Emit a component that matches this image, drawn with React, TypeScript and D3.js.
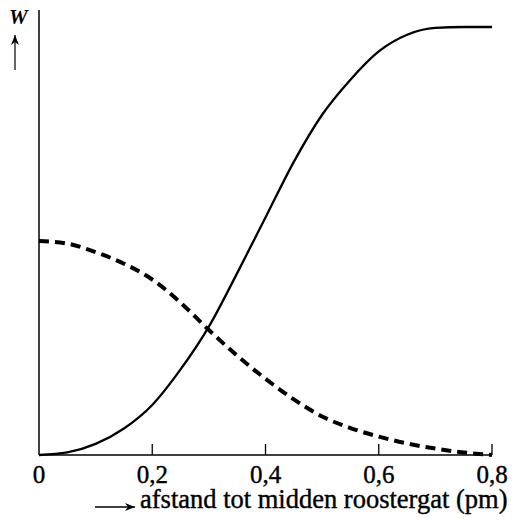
import { useEffect, useRef } from 'react';
import * as d3 from 'd3';

// afstand (pm) and W values
const distance = [0, 0.05, 0.1, 0.15, 0.2, 0.25, 0.3, 0.35, 0.4, 0.45, 0.5, 0.55, 0.6, 0.65, 0.7, 0.75, 0.8];
const solidW = [0, 0.006, 0.026, 0.062, 0.117, 0.2, 0.3, 0.425, 0.555, 0.685, 0.795, 0.877, 0.943, 0.982, 0.998, 1.0, 1.0];
const dashW = [0.5, 0.494, 0.474, 0.447, 0.41, 0.356, 0.292, 0.232, 0.178, 0.13, 0.09, 0.063, 0.043, 0.027, 0.015, 0.006, 0.0];

const tickValues = [0, 0.2, 0.4, 0.6, 0.8];
const tickLabels = ['0', '0,2', '0,4', '0,6', '0,8'];

const App = () => {
  const svgRef = useRef<SVGSVGElement>(null);

  useEffect(() => {
    if (!svgRef.current) return;
    d3.select(svgRef.current).selectAll('*').remove();

    const width = 513;
    const height = 520;
    const svg = d3.select(svgRef.current).attr('width', width).attr('height', height);
    const font = '"Liberation Serif", "Times New Roman", Times, serif';

    const x = d3.scaleLinear().domain([0, 0.8]).range([39, 492]);
    const y = d3.scaleLinear().domain([0, 1]).range([455, 27]);

    svg.append('defs')
      .append('marker')
      .attr('id', 'arrowhead')
      .attr('viewBox', '0 0 10 10')
      .attr('refX', 10)
      .attr('refY', 5)
      .attr('markerWidth', 10)
      .attr('markerHeight', 10)
      .attr('markerUnits', 'userSpaceOnUse')
      .attr('orient', 'auto')
      .append('path')
      .attr('d', 'M0,1 L10,5 L0,9 L3,5 Z')
      .attr('fill', '#000');

    // axes
    svg.append('line')
      .attr('x1', x(0)).attr('x2', x(0))
      .attr('y1', 10).attr('y2', y(0))
      .attr('stroke', '#000').attr('stroke-width', 1.5);

    svg.append('line')
      .attr('x1', x(0)).attr('x2', x(0.8))
      .attr('y1', y(0)).attr('y2', y(0))
      .attr('stroke', '#000').attr('stroke-width', 1.5);

    tickValues.forEach((t, i) => {
      if (t > 0) {
        svg.append('line')
          .attr('x1', x(t)).attr('x2', x(t))
          .attr('y1', y(0) - 11).attr('y2', y(0))
          .attr('stroke', '#000').attr('stroke-width', 1.3);
      }
      svg.append('text')
        .attr('x', x(t))
        .attr('y', 483)
        .attr('text-anchor', 'middle')
        .attr('font-family', font)
        .attr('font-size', '25px')
        .attr('fill', '#000')
        .attr('stroke', '#000')
        .attr('stroke-width', 0.4)
        .text(tickLabels[i]);
    });

    // axis labels
    svg.append('line')
      .attr('x1', 95).attr('x2', 135)
      .attr('y1', 507).attr('y2', 507)
      .attr('stroke', '#000').attr('stroke-width', 1.3)
      .attr('marker-end', 'url(#arrowhead)');

    svg.append('text')
      .attr('x', 140)
      .attr('y', 508)
      .attr('font-family', font)
      .attr('font-size', '26.5px')
      .attr('fill', '#000')
      .attr('stroke', '#000')
      .attr('stroke-width', 0.4)
      .text('afstand tot midden roostergat (pm)');

    svg.append('text')
      .attr('x', 9)
      .attr('y', 24)
      .attr('font-family', font)
      .attr('font-size', '21px')
      .attr('font-weight', 'bold')
      .attr('font-style', 'italic')
      .attr('fill', '#000')
      .text('W');

    svg.append('line')
      .attr('x1', 15).attr('x2', 15)
      .attr('y1', 70).attr('y2', 35)
      .attr('stroke', '#000').attr('stroke-width', 1.2)
      .attr('marker-end', 'url(#arrowhead)');

    const line = d3.line<[number, number]>()
      .x((d) => x(d[0]))
      .y((d) => y(d[1]))
      .curve(d3.curveMonotoneX);

    const solid: [number, number][] = distance.map((v, i) => [v, solidW[i]]);
    const dashed: [number, number][] = distance.map((v, i) => [v, dashW[i]]);

    svg.append('path')
      .attr('d', line(solid))
      .attr('fill', 'none')
      .attr('stroke', '#000')
      .attr('stroke-width', 2.3);

    svg.append('path')
      .attr('d', line(dashed))
      .attr('fill', 'none')
      .attr('stroke', '#000')
      .attr('stroke-width', 4)
      .attr('stroke-dasharray', '10,6');
  }, []);

  return <svg ref={svgRef} style={{ display: 'block', position: 'absolute', left: 0, top: 0 }} />;
};

export default App;
